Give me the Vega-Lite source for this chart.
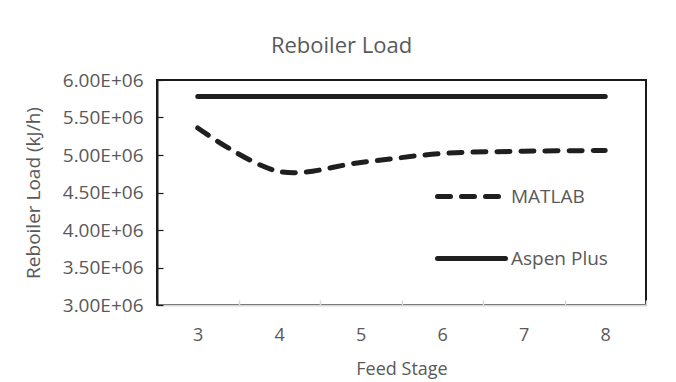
{
  "$schema": "https://vega.github.io/schema/vega-lite/v6.json",
  "width": 489,
  "height": 225,
  "autosize": {"type": "none"},
  "padding": {"left": 157, "top": 80, "right": 30, "bottom": 77},
  "background": "white",
  "title": {
    "text": "Reboiler Load",
    "font": "Open Sans",
    "fontSize": 22,
    "fontWeight": "normal",
    "color": "#595959",
    "anchor": "middle",
    "frame": "group",
    "dx": -60,
    "dy": 30,
    "offset": 26,
    "baseline": "alphabetic"
  },
  "config": {
    "view": {"stroke": "#1a1a1a", "strokeWidth": 2}
  },
  "data": {
    "values": [
      {"stage": 3, "load": 5360000, "series": "MATLAB"},
      {"stage": 4, "load": 4780000, "series": "MATLAB"},
      {"stage": 5, "load": 4900000, "series": "MATLAB"},
      {"stage": 6, "load": 5020000, "series": "MATLAB"},
      {"stage": 7, "load": 5050000, "series": "MATLAB"},
      {"stage": 8, "load": 5060000, "series": "MATLAB"},
      {"stage": 3, "load": 5780000, "series": "Aspen Plus"},
      {"stage": 4, "load": 5780000, "series": "Aspen Plus"},
      {"stage": 5, "load": 5780000, "series": "Aspen Plus"},
      {"stage": 6, "load": 5780000, "series": "Aspen Plus"},
      {"stage": 7, "load": 5780000, "series": "Aspen Plus"},
      {"stage": 8, "load": 5780000, "series": "Aspen Plus"}
    ]
  },
  "mark": {"type": "line", "interpolate": "catmull-rom", "strokeWidth": 5, "strokeCap": "round", "color": "#1f1f1f"},
  "encoding": {
    "x": {
      "field": "stage",
      "type": "ordinal",
      "scale": {"type": "band", "paddingInner": 0, "paddingOuter": 0},
      "axis": {
        "title": "Feed Stage",
        "labelAngle": 0,
        "labelFont": "Open Sans",
        "labelFontSize": 18,
        "labelColor": "#595959",
        "labelPadding": 26,
        "tickBand": "extent",
        "tickSize": -5,
        "tickColor": "#d9d9d9",
        "tickWidth": 1.5,
        "domainColor": "#d9d9d9",
        "domainWidth": 2,
        "grid": false,
        "titleFont": "Open Sans",
        "titleFontSize": 18,
        "titleFontWeight": "normal",
        "titleColor": "#595959",
        "titleY": 64,
        "titleBaseline": "middle"
      }
    },
    "y": {
      "field": "load",
      "type": "quantitative",
      "scale": {"domain": [3000000, 6000000], "nice": false, "zero": false},
      "axis": {
        "title": "Reboiler Load (kJ/h)",
        "values": [3000000, 3500000, 4000000, 4500000, 5000000, 5500000, 6000000],
        "labelExpr": "format(datum.value/1000000,'.2f')+'E+06'",
        "labelFont": "Open Sans",
        "labelFontSize": 19,
        "labelColor": "#595959",
        "labelPadding": 20,
        "tickSize": -6,
        "tickColor": "#1a1a1a",
        "tickWidth": 1.2,
        "domainColor": "#1a1a1a",
        "domainWidth": 2,
        "grid": false,
        "titleFont": "Open Sans",
        "titleFontSize": 19,
        "titleFontWeight": "normal",
        "titleColor": "#595959",
        "titleX": -124,
        "titleBaseline": "middle"
      }
    },
    "strokeDash": {
      "field": "series",
      "type": "nominal",
      "scale": {"domain": ["MATLAB", "Aspen Plus"], "range": [[13, 11], [1, 0]]},
      "legend": {
        "title": null,
        "orient": "none",
        "legendX": 278,
        "legendY": 80,
        "symbolType": "stroke",
        "symbolSize": 4624,
        "symbolStrokeWidth": 5,
        "symbolStrokeColor": "#1f1f1f",
        "labelFont": "Open Sans",
        "labelFontSize": 19,
        "labelColor": "#595959",
        "labelOffset": 3,
        "rowPadding": 15,
        "padding": 0,
        "encode": {"symbols": {"update": {"strokeCap": {"value": "round"}}}}
      }
    }
  }
}
